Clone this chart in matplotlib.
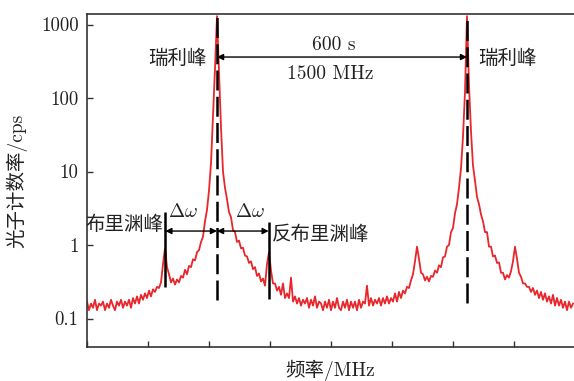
import numpy as np
import matplotlib.pyplot as plt

plt.rcParams['font.family'] = ['cmr10', 'Noto Sans CJK SC', 'DejaVu Sans']
plt.rcParams['mathtext.fontset'] = 'cm'
plt.rcParams['axes.unicode_minus'] = False

# frequency grid (MHz), Rayleigh peak at 0 MHz, sampled every 12 MHz
freq = np.arange(-780, 2148, 12)

# photon count rate (cps)
counts = [
    0.17, 0.13, 0.16, 0.14, 0.18, 0.13, 0.16, 0.15, 0.17, 0.13,
    0.16, 0.14, 0.18, 0.15, 0.13, 0.17, 0.15, 0.18, 0.14, 0.17,
    0.15, 0.18, 0.14, 0.19, 0.16, 0.20, 0.16, 0.21, 0.18, 0.22,
    0.19, 0.24, 0.20, 0.25, 0.23, 0.27, 0.26, 0.31, 0.55, 0.90,
    0.50, 0.40, 0.31, 0.35, 0.29, 0.34, 0.31, 0.38, 0.36, 0.46,
    0.40, 0.52, 0.50, 0.64, 0.62, 0.80, 0.85, 1.1, 1.3, 2.1,
    3.0, 5.5, 13, 55, 250, 1300, 220, 40, 10, 6.0,
    4.2, 2.8, 2.4, 1.6, 1.5, 1.1, 1.15, 0.90, 0.92, 0.72,
    0.70, 0.57, 0.60, 0.47, 0.50, 0.38, 0.41, 0.32, 0.35, 0.28,
    0.55, 0.80, 0.45, 0.30, 0.30, 0.24, 0.27, 0.21, 0.30, 0.19,
    0.22, 0.19, 0.36, 0.17, 0.20, 0.16, 0.19, 0.15, 0.18, 0.16,
    0.19, 0.14, 0.18, 0.15, 0.20, 0.14, 0.17, 0.16, 0.13, 0.17,
    0.14, 0.18, 0.13, 0.17, 0.14, 0.19, 0.14, 0.13, 0.17, 0.14,
    0.18, 0.13, 0.17, 0.14, 0.17, 0.13, 0.18, 0.14, 0.17, 0.16,
    0.28, 0.15, 0.19, 0.15, 0.18, 0.16, 0.19, 0.15, 0.19, 0.16,
    0.20, 0.16, 0.19, 0.17, 0.22, 0.17, 0.23, 0.19, 0.24, 0.22,
    0.27, 0.26, 0.33, 0.40, 0.60, 0.95, 0.65, 0.42, 0.40, 0.33,
    0.37, 0.32, 0.38, 0.37, 0.45, 0.42, 0.53, 0.50, 0.68, 0.70,
    0.95, 1.0, 1.5, 1.7, 2.7, 3.6, 6.0, 11, 30, 120,
    1300, 150, 35, 12, 7.5, 4.5, 3.6, 2.6, 2.1, 1.5,
    1.5, 0.95, 0.95, 0.70, 0.72, 0.57, 0.58, 0.42, 0.42, 0.34,
    0.39, 0.36, 0.44, 0.60, 0.95, 0.65, 0.42, 0.37, 0.30, 0.30,
    0.27, 0.27, 0.23, 0.26, 0.21, 0.24, 0.19, 0.23, 0.18, 0.22,
    0.17, 0.20, 0.16, 0.21, 0.15, 0.19, 0.15, 0.18, 0.14, 0.17,
    0.13, 0.17, 0.14, 0.16,
]

rayleigh = [0, 1500]
brillouin_shift = 310
yticks = [0.1, 1, 10, 100, 1000]
ytick_labels = ['0.1', '1', '10', '100', '1000']
xticks = [-780, -414, -48, 318, 684, 1050, 1416, 1782]

txt = '#222222'
fig = plt.figure(figsize=(5.74, 3.81), dpi=100)
ax = fig.add_axes([87 / 574, 34 / 381, 1 - 87 / 574, 333 / 381])

ax.plot(freq, counts, color='#e8262b', lw=1.3, zorder=2)

# rayleigh lines
ax.vlines(rayleigh[0], 0.18, 1260, colors='k', linestyles=(0, (8, 2.5)), lw=1.8, zorder=3)
ax.vlines(rayleigh[1], 0.163, 1260, colors='k', linestyles=(0, (8, 2.5)), lw=1.8, zorder=3)

# brillouin markers
ax.vlines(-brillouin_shift, 0.268, 2.8, colors='k', lw=1.8, zorder=3)
ax.vlines(brillouin_shift, 0.184, 2.06, colors='k', lw=1.8, zorder=3)

ap = dict(arrowstyle='<|-|>', color='k', lw=1.0, shrinkA=0, shrinkB=0, mutation_scale=9)
ax.annotate('', xy=(rayleigh[0], 361), xytext=(rayleigh[1], 361), arrowprops=ap)
ax.annotate('', xy=(-brillouin_shift, 1.55), xytext=(0, 1.55), arrowprops=ap)
ax.annotate('', xy=(0, 1.55), xytext=(brillouin_shift, 1.55), arrowprops=ap)

ax.text(700, 530, '600 s', ha='center', va='center', fontsize=14, color=txt)
ax.text(680, 212, '1500 MHz', ha='center', va='center', fontsize=14, color=txt)
ax.text(-60, 345, '瑞利峰', ha='right', va='center', fontsize=14, color=txt)
ax.text(1568, 345, '瑞利峰', ha='left', va='center', fontsize=14, color=txt)
ax.text(-205, 2.85, r'$\Delta\omega$', ha='center', va='center', fontsize=14, color=txt)
ax.text(200, 2.85, r'$\Delta\omega$', ha='center', va='center', fontsize=14, color=txt)
ax.text(-323, 1.87, '布里渊峰', ha='right', va='center', fontsize=14, color=txt)
ax.text(330, 1.37, '反布里渊峰', ha='left', va='center', fontsize=14, color=txt)

ax.set_yscale('log')
ax.set_ylim(0.041, 1390)
ax.set_xlim(-780, 2142)
ax.set_yticks(yticks)
ax.set_yticklabels(ytick_labels)
ax.minorticks_off()
ax.set_xticks(xticks)
ax.set_xticklabels([])
ax.tick_params(direction='in', length=4, width=1.0, colors='#333333', labelsize=13.5,
               labelcolor=txt, pad=6)

for s in ['left', 'top', 'bottom']:
    ax.spines[s].set_color('#333333')
    ax.spines[s].set_linewidth(1.2)
ax.spines['right'].set_visible(False)

ax.set_ylabel('光子计数率/cps', fontsize=14, color=txt, labelpad=10)
ax.set_xlabel('频率/MHz', fontsize=14, color=txt, labelpad=3)

fig.savefig('out.png', dpi=100)
